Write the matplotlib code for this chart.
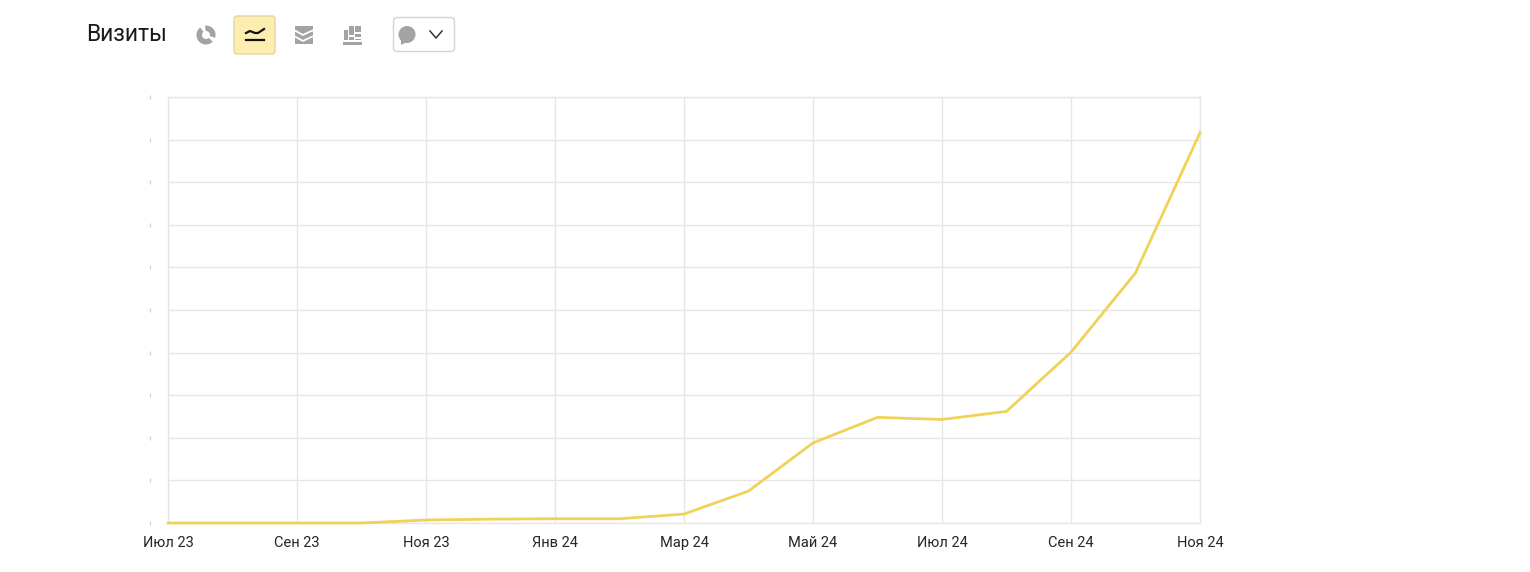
import numpy as np
from matplotlib import pyplot as plt
from matplotlib.patches import FancyBboxPatch, Circle, Wedge, Rectangle, Polygon

plt.rcParams['font.family'] = ['Roboto', 'DejaVu Sans']

# Months are the x unit, the values axis had its labels hidden so units are grid steps.
months = list(range(17))
visits = [0.0, 0.0, 0.0, 0.0, 0.07, 0.09, 0.10, 0.10, 0.21, 0.75, 1.88, 2.48, 2.43, 2.62, 4.01, 5.87, 9.16]
tick_months = [0, 2, 4, 6, 8, 10, 12, 14, 16]
tick_labels = ['Июл 23', 'Сен 23', 'Ноя 23', 'Янв 24', 'Мар 24', 'Май 24', 'Июл 24', 'Сен 24', 'Ноя 24']
y_ticks = list(range(11))

W, H = 1530, 572
fig = plt.figure(figsize=(W / 100, H / 100), dpi=100)

# Plot area
ax = fig.add_axes([168 / W, 1 - 523 / H, (1200 - 168) / W, (523 - 97) / H])
ax.plot(months, visits, color='#efd257', lw=2.0, clip_on=False, zorder=3, solid_joinstyle='round')
ax.set_xlim(0, 16)
ax.set_ylim(0, 10)
ax.set_xticks(tick_months)
ax.set_xticklabels(tick_labels, fontsize=10.5, color='#262626', va='baseline')
ax.set_yticks(y_ticks)
ax.set_yticklabels([])
ax.grid(True, color='#e6e6e6', lw=1.0)
ax.set_axisbelow(True)
ax.tick_params(axis='x', length=0, pad=17)
ax.tick_params(axis='y', length=0)
for s in ax.spines.values():
    s.set_color('#e6e6e6')
    s.set_linewidth(1.0)
# the small y marks are vertical and sit away from the frame, at about x=150
ax.plot([-18 / 1032] * len(y_ticks), y_ticks, ls='none', marker='|', ms=3, mew=0.9, color='#d0d0d0',
        transform=ax.get_yaxis_transform(), clip_on=False)

# Toolbar drawn in pixel coordinates over the whole figure
ui = fig.add_axes([0, 0, 1, 1], zorder=5)
ui.set_xlim(0, W)
ui.set_ylim(H, 0)
ui.axis('off')
ui.patch.set_alpha(0)

ui.text(86, 41, 'Визиты', fontsize=16.5, color='#1a1a1a', va='baseline', ha='left')

grey = '#a3a3a3'
# pie icon
ui.add_patch(Wedge((206, 35), 9.5, 0, 360, width=5.5, fc=grey, ec='none'))
ui.add_patch(Polygon([[206, 35], [199, 26], [205, 25]], fc='white', ec='none'))
ui.add_patch(Polygon([[206, 35], [216, 38], [213, 42]], fc='white', ec='none'))

# active line button
ui.add_patch(FancyBboxPatch((234, 16), 41, 38, boxstyle='round,pad=0,rounding_size=3',
                            fc='#fdeeb0', ec='#e3d6a0', lw=1))
ui.plot([246, 250, 255, 258, 264], [33, 31, 33, 33, 29], color='#111111', lw=1.6)
ui.plot([246, 264], [40, 40], color='#111111', lw=1.6)

# stacked area icon: a block cut by two white waves
ui.add_patch(Rectangle((295, 26), 18, 18, fc=grey, ec='none'))
for off in (0, 6):
    ui.plot([294, 303, 309, 314], [30 + off, 35 + off, 32 + off, 30 + off], color='white', lw=1.3)

# column blocks icon
for x, y, w, h in [(344, 30, 4, 10), (349, 26, 5, 9), (349, 37, 5, 3), (355, 26, 6, 6),
                   (355, 34, 6, 3), (355, 38.5, 6, 1.5), (343, 42, 19, 2.5)]:
    ui.add_patch(Rectangle((x, y), w, h, fc=grey, ec='none'))

# notes dropdown
ui.add_patch(FancyBboxPatch((393.5, 17.5), 61, 34, boxstyle='round,pad=0,rounding_size=3',
                            fc='white', ec='#d4d4d4', lw=1))
ui.add_patch(Circle((407, 34.5), 8.5, fc=grey, ec='none'))
ui.add_patch(Polygon([[401, 39], [407, 42], [401, 45]], fc=grey, ec='none'))
ui.plot([430, 436, 442], [31, 38, 31], color='#333333', lw=1.1)

fig.savefig('out.png', dpi=100)
